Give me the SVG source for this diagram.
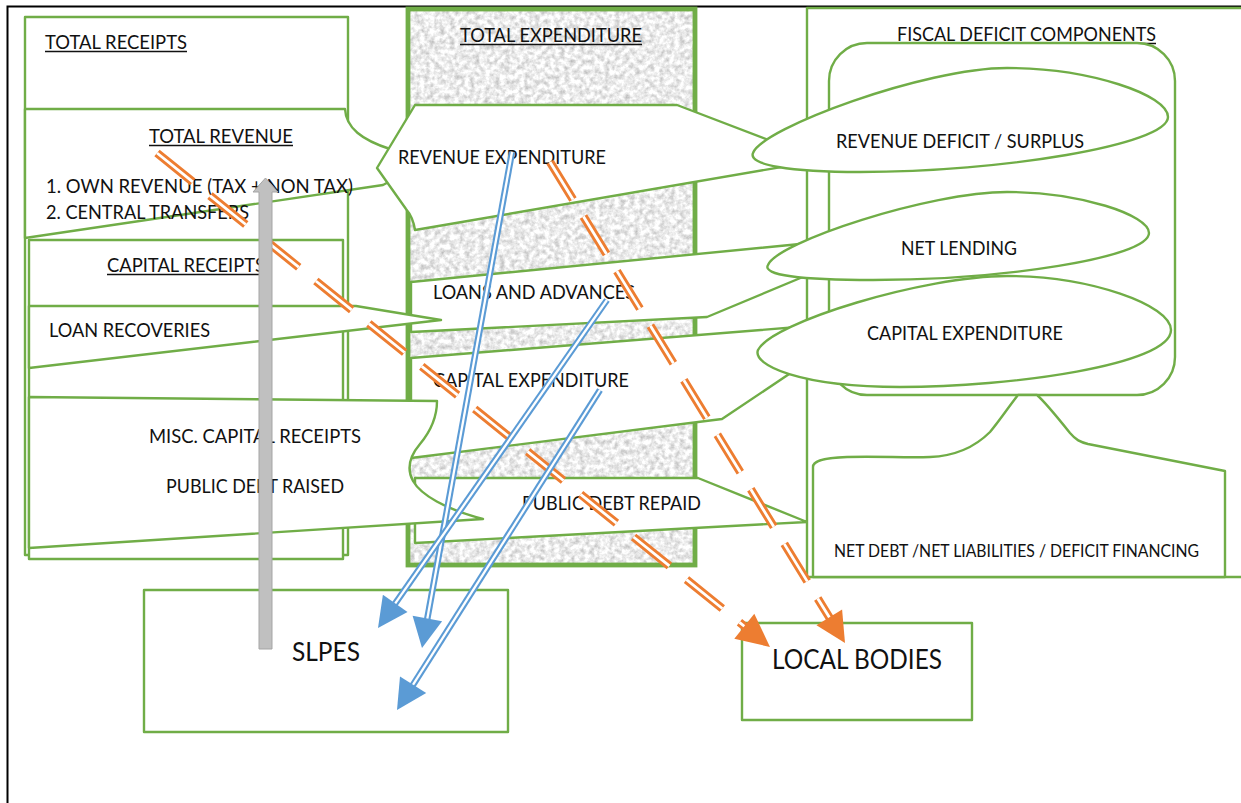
<svg xmlns="http://www.w3.org/2000/svg" width="1241" height="803" viewBox="0 0 1241 803">
<defs>
<filter id="news" x="0" y="0" width="1" height="1" color-interpolation-filters="sRGB">
<feTurbulence type="fractalNoise" baseFrequency="0.2" numOctaves="3" seed="5"/>
<feColorMatrix type="matrix" values="0.45 0 0 0 0.7  0.45 0 0 0 0.7  0.45 0 0 0 0.7  0 0 0 0 1"/>
</filter>
</defs>
<style>
.g{fill:#fff;stroke:#70AD47;stroke-width:2.4;stroke-linejoin:round}
.t{font-family:Lato,"Open Sans",sans-serif;font-size:19.5px;fill:#111}
.u{stroke:#111;stroke-width:1.4}
.bo{stroke:#5B9BD5;stroke-width:6.5;fill:none}
.bi{stroke:#fff;stroke-width:2.3;fill:none}
.ba{fill:#5B9BD5}
.oo{stroke:#ED7D31;stroke-width:8.5;fill:none}
.oi{stroke:#fff;stroke-width:2.8;fill:none}
.oa{fill:#ED7D31}
</style>
<rect width="1241" height="803" fill="#fff"/>
<path d="M7.5,803 V6.5 H1241" fill="none" stroke="#000" stroke-width="2"/>

<g id="total-expenditure">
<rect x="408" y="9" width="287" height="556" fill="#fff" filter="url(#news)"/>
<rect x="408" y="9" width="287" height="556" fill="none" stroke="#70AD47" stroke-width="4.8"/>
<text class="t" x="460" y="42" textLength="182" lengthAdjust="spacingAndGlyphs">TOTAL EXPENDITURE</text>
<line class="u" x1="460" y1="44.5" x2="642" y2="44.5"/>
</g>

<g id="total-receipts">
<rect class="g" x="25" y="17" width="323" height="538"/>
<text class="t" x="45" y="49" textLength="142" lengthAdjust="spacingAndGlyphs">TOTAL RECEIPTS</text>
<line class="u" x1="45" y1="51.5" x2="187" y2="51.5"/>
</g>

<g id="capital-receipts">
<rect class="g" x="29" y="240" width="314" height="319"/>
<text class="t" x="107" y="272" textLength="158" lengthAdjust="spacingAndGlyphs">CAPITAL RECEIPTS</text>
<line class="u" x1="107" y1="274.5" x2="265" y2="274.5"/>
</g>

<g id="total-revenue">
<path class="g" d="M25,109 H345 C346,128 362,140 390,149 L420,165 L383,185 L25,238 Z"/>
<text class="t" x="149" y="143" textLength="144" lengthAdjust="spacingAndGlyphs">TOTAL REVENUE</text>
<line class="u" x1="149" y1="145.5" x2="293" y2="145.5"/>
<text class="t" x="46" y="193" textLength="307" lengthAdjust="spacingAndGlyphs">1. OWN REVENUE (TAX + NON TAX)</text>
<text class="t" x="46" y="219" textLength="203" lengthAdjust="spacingAndGlyphs">2. CENTRAL TRANSFERS</text>
</g>

<g id="revenue-expenditure">
<path class="g" d="M415,105 H677 L805,154 L805,163 L415,230 Q413,217 406,209 L377,168 Z"/>
<text class="t" x="398" y="164" textLength="208" lengthAdjust="spacingAndGlyphs">REVENUE EXPENDITURE</text>
</g>

<g id="loans-and-advances">
<path class="g" d="M411,282 L810,243 V274 L707,317 L411,332 Z"/>
<text class="t" x="433" y="299" textLength="202" lengthAdjust="spacingAndGlyphs">LOANS AND ADVANCES</text>
</g>

<g id="capital-expenditure-mid">
<path class="g" d="M411,358 L810,326 V360 L722,419 L411,458 Z"/>
<text class="t" x="433" y="387" textLength="196" lengthAdjust="spacingAndGlyphs">CAPITAL EXPENDITURE</text>
</g>

<g id="public-debt-repaid">
<path class="g" d="M415,478 H698 L807,522 L415,543 Z"/>
<text class="t" x="522" y="510" textLength="179" lengthAdjust="spacingAndGlyphs">PUBLIC DEBT REPAID</text>
</g>

<g id="loan-recoveries">
<path class="g" d="M29,306 H356 L441,320 L29,368 Z"/>
<text class="t" x="49" y="337" textLength="161" lengthAdjust="spacingAndGlyphs">LOAN RECOVERIES</text>
</g>

<g id="misc-capital-receipts">
<path class="g" d="M29,397 L437,401 C437,418 430,432 420,444 C409,457 407,470 413,481 C421,495 445,509 483,519 L29,548 Z"/>
<text class="t" x="149" y="443" textLength="212" lengthAdjust="spacingAndGlyphs">MISC. CAPITAL RECEIPTS</text>
<text class="t" x="166" y="493" textLength="178" lengthAdjust="spacingAndGlyphs">PUBLIC DEBT RAISED</text>
</g>

<g id="fiscal-deficit-components">
<rect class="g" x="807" y="8" width="460" height="569"/>
<text class="t" x="897" y="41" textLength="259" lengthAdjust="spacingAndGlyphs">FISCAL DEFICIT COMPONENTS</text>
<line class="u" x1="897" y1="43.5" x2="1156" y2="43.5"/>
<rect class="g" x="829" y="43" width="346" height="352" rx="38"/>
</g>

<g id="net-debt">
<path class="g" d="M813,577 V467 C813,462 820,458 847,457 C880,456 905,458 930,457 C955,456 975,447 990,432 C1000,420 1010,405 1018,395 L1037,395 C1045,402 1058,418 1070,433 C1076,440 1080,442 1088,444 L1225,471 V577 Z"/>
<text class="t" style="font-size:17.5px" x="834" y="557" textLength="365" lengthAdjust="spacingAndGlyphs">NET DEBT /NET LIABILITIES / DEFICIT FINANCING</text>
</g>

<g id="revenue-deficit">
<path class="g" d="M753,153 C762,128 925,68 1007,68 C1090,68 1168,95 1168,117 C1168,145 1000,172 860,172 C790,172 748,165 753,153 Z"/>
<text class="t" x="836" y="148" textLength="248" lengthAdjust="spacingAndGlyphs">REVENUE DEFICIT / SURPLUS</text>
</g>

<g id="net-lending">
<path class="g" d="M768,265 C777,242 930,192 1007,192 C1080,192 1149,215 1149,233 C1149,258 1000,280 873,280 C800,280 762,275 768,265 Z"/>
<text class="t" x="901" y="255" textLength="116" lengthAdjust="spacingAndGlyphs">NET LENDING</text>
</g>

<g id="capital-expenditure-right">
<path class="g" d="M758,350 C772,322 925,276 1007,276 C1090,276 1171,305 1171,330 C1171,365 1010,387 900,387 C800,387 752,365 758,350 Z"/>
<text class="t" x="867" y="340" textLength="196" lengthAdjust="spacingAndGlyphs">CAPITAL EXPENDITURE</text>
</g>

<g id="slpes">
<rect class="g" x="144" y="590" width="364" height="142"/>
<text class="t" style="font-size:26.5px" x="292" y="661" textLength="68" lengthAdjust="spacingAndGlyphs">SLPES</text>
</g>

<g id="local-bodies">
<rect class="g" x="742" y="623" width="230" height="97"/>
<text class="t" style="font-size:26px" x="772" y="669" textLength="170" lengthAdjust="spacingAndGlyphs">LOCAL BODIES</text>
</g>

<g id="connectors">
<line class="oo" x1="157" y1="153" x2="745.9" y2="627.5" stroke-dasharray="46 22"/>
<line class="oi" x1="157" y1="153" x2="745.9" y2="627.5" stroke-dasharray="46 22"/>
<polygon class="oa" points="770,647 734.3,638.8 754.3,613.8"/>
<line class="oo" x1="550" y1="162" x2="830.4" y2="619.1" stroke-dasharray="44 20"/>
<line class="oi" x1="550" y1="162" x2="830.4" y2="619.1" stroke-dasharray="44 20"/>
<polygon class="oa" points="845,643 816.5,625.2 842.1,609.6"/>

<line class="bo" x1="512" y1="152" x2="426.8" y2="621.4"/>
<line class="bi" x1="512" y1="152" x2="426.8" y2="621.4"/>
<polygon class="ba" points="422,648 442.1,621.2 412.6,615.8"/>
<line class="bo" x1="607" y1="300" x2="393.5" y2="605.9"/>
<line class="bi" x1="607" y1="300" x2="393.5" y2="605.9"/>
<polygon class="ba" points="378,628 407.5,612 382.9,594.8"/>
<line class="bo" x1="600" y1="390" x2="411.5" y2="687.2"/>
<line class="bi" x1="600" y1="390" x2="411.5" y2="687.2"/>
<polygon class="ba" points="397,710 426.2,693 400,676.4"/>

<polygon points="259,649 259,192 253,192 265.5,178 278,192 272,192 272,649" fill="#C0C0C0" stroke="#A5A5A5" stroke-width="1"/>
</g>
</svg>
